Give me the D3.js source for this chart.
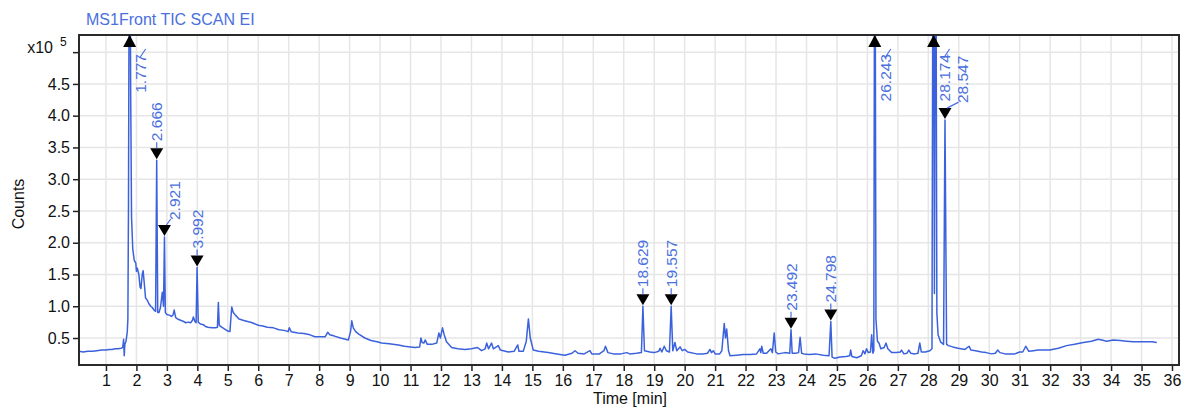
<!DOCTYPE html>
<html>
<head>
<meta charset="utf-8">
<script src="https://cdn.jsdelivr.net/npm/d3@7"></script>
<style>
  body { margin: 0; background: #fff; }
  text { font-family: "Liberation Sans", Arial, sans-serif; }
</style>
</head>
<body>
<div id="chart"></div>
<script>
// retention time (min) and counts (x10^5)
var times = [0.12, 0.25, 0.4, 0.55, 0.7, 0.85, 1.0, 1.1, 1.2, 1.3, 1.4, 1.5, 1.55, 1.58, 1.6, 1.62, 1.66, 1.7, 1.72, 1.74, 1.777, 1.81, 1.84, 1.88, 1.93, 1.98, 2.0, 2.03, 2.08, 2.12, 2.15, 2.19, 2.22, 2.26, 2.3, 2.35, 2.41, 2.47, 2.52, 2.58, 2.63, 2.666, 2.7, 2.74, 2.79, 2.85, 2.89, 2.921, 2.95, 3.0, 3.08, 3.15, 3.2, 3.24, 3.29, 3.35, 3.45, 3.55, 3.62, 3.7, 3.78, 3.84, 3.87, 3.92, 3.96, 3.992, 4.03, 4.1, 4.2, 4.27, 4.35, 4.48, 4.6, 4.66, 4.69, 4.72, 4.8, 4.9, 5.0, 5.07, 5.1, 5.13, 5.18, 5.25, 5.37, 5.5, 5.65, 5.8, 6.0, 6.15, 6.3, 6.5, 6.68, 6.85, 6.98, 7.02, 7.08, 7.3, 7.5, 7.7, 7.86, 8.0, 8.2, 8.28, 8.35, 8.5, 8.7, 8.96, 9.03, 9.07, 9.12, 9.2, 9.3, 9.5, 9.7, 9.9, 10.05, 10.3, 10.6, 10.8, 11.0, 11.15, 11.3, 11.34, 11.38, 11.44, 11.48, 11.55, 11.7, 11.86, 11.93, 11.98, 12.05, 12.1, 12.18, 12.35, 12.55, 12.79, 13.0, 13.2, 13.33, 13.45, 13.5, 13.56, 13.66, 13.72, 13.88, 13.95, 14.21, 14.4, 14.52, 14.56, 14.7, 14.8, 14.87, 14.93, 15.03, 15.2, 15.52, 15.8, 16.07, 16.3, 16.4, 16.5, 16.7, 16.89, 16.95, 17.2, 17.35, 17.4, 17.48, 17.66, 17.9, 18.1, 18.2, 18.42, 18.58, 18.629, 18.68, 18.86, 19.0, 19.15, 19.19, 19.25, 19.33, 19.4, 19.5, 19.557, 19.61, 19.68, 19.74, 19.85, 19.92, 20.0, 20.1, 20.39, 20.6, 20.75, 20.83, 20.88, 20.94, 21.0, 21.15, 21.22, 21.3, 21.34, 21.38, 21.44, 21.49, 21.7, 21.92, 22.15, 22.36, 22.47, 22.5, 22.53, 22.58, 22.69, 22.83, 22.88, 22.94, 22.99, 23.07, 23.29, 23.45, 23.492, 23.53, 23.64, 23.74, 23.79, 23.84, 23.91, 24.1, 24.3, 24.55, 24.74, 24.798, 24.84, 24.93, 25.1, 25.3, 25.42, 25.45, 25.49, 25.65, 25.8, 25.86, 25.92, 25.97, 26.03, 26.1, 26.14, 26.18, 26.21, 26.243, 26.28, 26.33, 26.38, 26.44, 26.55, 26.61, 26.67, 26.8, 26.95, 27.08, 27.12, 27.2, 27.3, 27.36, 27.42, 27.56, 27.66, 27.72, 27.77, 27.9, 28.05, 28.12, 28.16, 28.2, 28.24, 28.28, 28.32, 28.4, 28.5, 28.547, 28.6, 28.66, 28.8, 28.98, 29.2, 29.34, 29.4, 29.55, 29.75, 29.9, 30.08, 30.2, 30.28, 30.35, 30.52, 30.7, 30.84, 31.0, 31.1, 31.2, 31.3, 31.45, 31.6, 31.72, 31.99, 32.27, 32.54, 32.8, 33.09, 33.35, 33.58, 33.7, 33.85, 34.07, 34.3, 34.5, 34.73, 34.95, 35.17, 35.35, 35.5];
var counts = [0.29, 0.28, 0.29, 0.29, 0.3, 0.31, 0.31, 0.32, 0.32, 0.33, 0.33, 0.34, 0.35, 0.48, 0.22, 0.4, 0.45, 0.6, 0.8, 2.6, 9, 4.5, 2.4, 1.9, 1.72, 1.68, 1.55, 1.6, 1.5, 1.3, 1.28, 1.5, 1.56, 1.35, 1.13, 1.1, 1.04, 1.0, 0.98, 0.94, 0.92, 3.3, 0.9, 0.9, 0.98, 1.22, 1.0, 2.09, 0.9, 0.87, 0.86, 0.84, 0.86, 0.94, 0.82, 0.8, 0.78, 0.76, 0.74, 0.75, 0.74, 0.78, 0.83, 0.76, 0.74, 1.61, 0.75, 0.72, 0.71, 0.68, 0.67, 0.66, 0.66, 0.67, 1.06, 0.7, 0.67, 0.64, 0.61, 0.6, 0.8, 0.99, 0.9, 0.86, 0.8, 0.78, 0.76, 0.74, 0.7, 0.69, 0.67, 0.66, 0.63, 0.62, 0.6, 0.66, 0.6, 0.58, 0.57, 0.55, 0.52, 0.52, 0.52, 0.59, 0.55, 0.53, 0.5, 0.47, 0.6, 0.77, 0.66, 0.6, 0.56, 0.5, 0.46, 0.44, 0.42, 0.41, 0.39, 0.37, 0.36, 0.35, 0.36, 0.5, 0.43, 0.42, 0.47, 0.4, 0.4, 0.42, 0.58, 0.5, 0.66, 0.56, 0.44, 0.35, 0.33, 0.32, 0.33, 0.35, 0.3, 0.33, 0.42, 0.33, 0.42, 0.33, 0.38, 0.31, 0.28, 0.29, 0.39, 0.29, 0.29, 0.45, 0.8, 0.5, 0.31, 0.29, 0.27, 0.25, 0.23, 0.26, 0.3, 0.26, 0.25, 0.3, 0.25, 0.25, 0.3, 0.37, 0.27, 0.25, 0.25, 0.27, 0.25, 0.26, 0.27, 1.0, 0.3, 0.28, 0.27, 0.29, 0.34, 0.28, 0.37, 0.3, 0.28, 1.0, 0.3, 0.43, 0.3, 0.36, 0.3, 0.32, 0.28, 0.25, 0.25, 0.26, 0.32, 0.27, 0.3, 0.25, 0.25, 0.3, 0.73, 0.5, 0.64, 0.3, 0.22, 0.23, 0.24, 0.24, 0.25, 0.33, 0.27, 0.37, 0.26, 0.26, 0.33, 0.27, 0.58, 0.28, 0.25, 0.27, 0.26, 0.63, 0.26, 0.26, 0.27, 0.51, 0.26, 0.25, 0.24, 0.25, 0.23, 0.22, 0.76, 0.2, 0.18, 0.2, 0.21, 0.22, 0.31, 0.21, 0.19, 0.22, 0.3, 0.25, 0.33, 0.27, 0.28, 0.55, 0.26, 0.3, 9, 0.8, 0.45, 0.42, 0.33, 0.35, 0.42, 0.33, 0.27, 0.27, 0.28, 0.31, 0.25, 0.26, 0.31, 0.26, 0.25, 0.26, 0.42, 0.28, 0.28, 0.3, 0.33, 9, 1.2, 9, 0.9, 0.55, 0.44, 0.4, 3.93, 0.4, 0.38, 0.36, 0.34, 0.32, 0.37, 0.31, 0.3, 0.28, 0.27, 0.25, 0.26, 0.31, 0.27, 0.25, 0.25, 0.25, 0.28, 0.28, 0.37, 0.29, 0.3, 0.31, 0.31, 0.31, 0.34, 0.38, 0.4, 0.43, 0.45, 0.48, 0.47, 0.45, 0.47, 0.46, 0.45, 0.44, 0.44, 0.44, 0.44, 0.43];

// labelled peaks (apex counts above the axis top are drawn as off-scale arrows)
var peakTimes = [1.777, 2.666, 2.921, 3.992, 18.629, 19.557, 23.492, 24.798, 26.243, 28.174, 28.547];
var peakCounts = [9, 3.3, 2.09, 1.61, 1.0, 1.0, 0.63, 0.76, 9, 9, 3.93];

var xTickValues = d3.range(1, 37);
var yTickValues = [0.5, 1.0, 1.5, 2.0, 2.5, 3.0, 3.5, 4.0, 4.5, 5.0];

var W = 1183, H = 407;
var plotL = 79, plotR = 1179, plotT = 35, plotB = 365;
var traceColor = "#3b62dc";
var labelColor = "#4a70de";

var x = d3.scaleLinear().domain([0.115, 36.23]).range([plotL, plotR]);
var y = d3.scaleLinear().domain([0.075, 5.27]).range([plotB, plotT]);

var svg = d3.select("#chart").append("svg")
    .attr("width", W)
    .attr("height", H);

svg.append("rect").attr("width", W).attr("height", H).attr("fill", "#fff");

// grid
svg.append("g").selectAll("line").data(xTickValues).enter().append("line")
    .attr("x1", function(d) { return x(d); })
    .attr("x2", function(d) { return x(d); })
    .attr("y1", plotT).attr("y2", plotB)
    .attr("stroke", "#e6e6e6").attr("stroke-width", 1.5);
svg.append("g").selectAll("line").data(yTickValues).enter().append("line")
    .attr("x1", plotL).attr("x2", plotR)
    .attr("y1", function(d) { return y(d); })
    .attr("y2", function(d) { return y(d); })
    .attr("stroke", "#e6e6e6").attr("stroke-width", 1.5);

// trace
svg.append("clipPath").attr("id", "plotclip").append("rect")
    .attr("x", plotL).attr("y", plotT).attr("width", plotR - plotL).attr("height", plotB - plotT);

var pts = times.map(function(t, i) { return [t, counts[i]]; });
var line = d3.line()
    .x(function(d) { return x(d[0]); })
    .y(function(d) { return y(d[1]); });

svg.append("path")
    .datum(pts)
    .attr("clip-path", "url(#plotclip)")
    .attr("d", line)
    .attr("fill", "none")
    .attr("stroke", traceColor)
    .attr("stroke-width", 1.5)
    .attr("stroke-linejoin", "round");

// axes
var xAxis = svg.append("g")
    .attr("transform", "translate(0," + plotB + ")")
    .call(d3.axisBottom(x).tickValues(xTickValues).tickSize(6).tickPadding(4).tickFormat(d3.format("d")));
var yAxis = svg.append("g")
    .attr("transform", "translate(" + plotL + ",0)")
    .call(d3.axisLeft(y).tickValues(yTickValues).tickSize(6).tickPadding(3)
        .tickFormat(function(d) { return d === 5 ? "" : d3.format(".1f")(d); }));

[xAxis, yAxis].forEach(function(a) {
    a.select(".domain").remove();
    a.selectAll(".tick line").attr("stroke", "#222").attr("stroke-width", 1.5);
    a.selectAll(".tick text").attr("fill", "#111").style("font-size", "16px")
        .style("font-family", "'Liberation Sans', Arial, sans-serif");
});

// frame
svg.append("rect")
    .attr("x", plotL).attr("y", plotT)
    .attr("width", plotR - plotL).attr("height", plotB - plotT)
    .attr("fill", "none").attr("stroke", "#2a2a2a").attr("stroke-width", 2);

// exponent
svg.append("text").attr("x", 53).attr("y", y(5) + 1)
    .attr("text-anchor", "end").attr("fill", "#111").style("font-size", "16px").text("x10");
svg.append("text").attr("x", 60).attr("y", y(5) - 6)
    .attr("fill", "#111").style("font-size", "12px").text("5");

// axis titles
svg.append("text")
    .attr("transform", "translate(24,204)rotate(-90)")
    .attr("text-anchor", "middle").attr("fill", "#111").style("font-size", "16px")
    .text("Counts");
svg.append("text")
    .attr("x", (plotL + plotR) / 2 + 1).attr("y", 404)
    .attr("text-anchor", "middle").attr("fill", "#111").style("font-size", "16px")
    .text("Time [min]");

// title
svg.append("text")
    .attr("x", 86).attr("y", 25)
    .attr("fill", labelColor).style("font-size", "16px")
    .text("MS1Front TIC SCAN EI");

// peak markers and labels
var maxY = y.domain()[1];
var lastLabelX = -100;
var g = svg.append("g");
peakTimes.forEach(function(t, i) {
    var px = x(t);
    var v = peakCounts[i];
    var lbl = d3.format(".3f")(t);
    if (v > maxY) {
        // off-scale: up arrow at the top of the frame
        g.append("path")
            .attr("d", "M" + px + "," + plotT + "l-6.5,12l13,0z")
            .attr("fill", "#000");
        var lx = px + 11;
        g.append("line")
            .attr("x1", px + 10).attr("y1", plotT + 23)
            .attr("x2", px + 16).attr("y2", plotT + 14)
            .attr("stroke", labelColor).attr("stroke-width", 1.2);
        g.append("text")
            .attr("transform", "translate(" + lx + "," + (plotT + 19) + ")rotate(-90)")
            .attr("text-anchor", "end").attr("dominant-baseline", "central")
            .attr("fill", labelColor).style("font-size", "15.5px")
            .text(lbl);
        lastLabelX = lx;
    } else {
        var py = y(v) - 1;
        g.append("path")
            .attr("d", "M" + px + "," + py + "l-6.5,-11l13,0z")
            .attr("fill", "#000");
        var lx = px;
        var ly;
        if (px - lastLabelX < 14) {
            // crowded: shift label right with a leader
            lx = lastLabelX + 18;
            g.append("line")
                .attr("x1", px + 2).attr("y1", py - 11)
                .attr("x2", lx - 4).attr("y2", py - 17)
                .attr("stroke", labelColor).attr("stroke-width", 1.2);
            ly = py - 16;
        } else {
            g.append("line")
                .attr("x1", px).attr("y1", py - 11)
                .attr("x2", px).attr("y2", py - 17)
                .attr("stroke", labelColor).attr("stroke-width", 1.2);
            ly = py - 18;
        }
        g.append("text")
            .attr("transform", "translate(" + lx + "," + ly + ")rotate(-90)")
            .attr("text-anchor", "start").attr("dominant-baseline", "central")
            .attr("fill", labelColor).style("font-size", "15.5px")
            .text(lbl);
        lastLabelX = lx;
    }
});
</script>
</body>
</html>
